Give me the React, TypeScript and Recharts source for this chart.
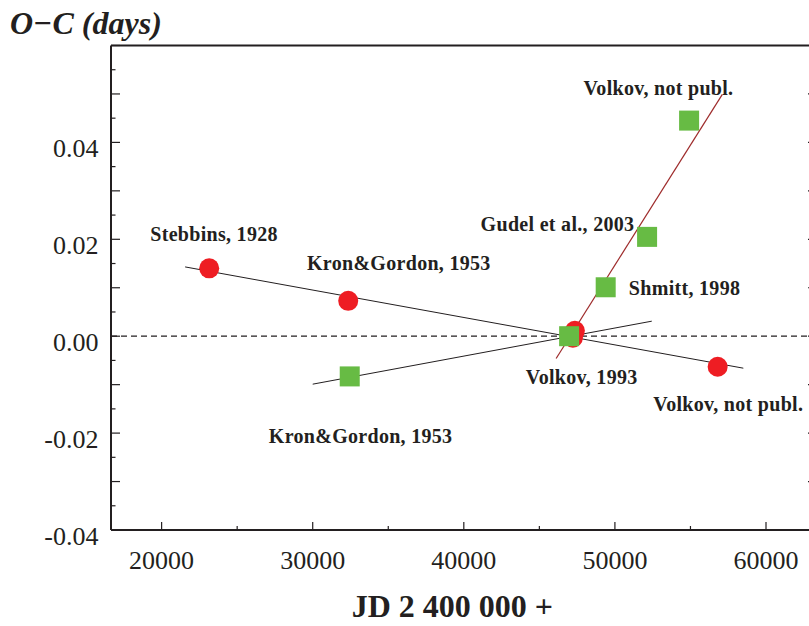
import { ScatterChart, Scatter, XAxis, YAxis, ReferenceLine } from "recharts"

const RED = "#ee1d23"
const GREEN = "#67bb44"
const FIT_RED = "#9e2b2b"
const INK = "#231f20"
const FONT = "'Liberation Serif', 'Times New Roman', serif"

const xDomain = [16650, 63375]
const yDomain = [-0.04, 0.06]
const xTicks = [20000, 25000, 30000, 35000, 40000, 45000, 50000, 55000, 60000]
const yTicks = [
  -0.04, -0.035, -0.03, -0.025, -0.02, -0.015, -0.01, -0.005, 0, 0.005, 0.01, 0.015, 0.02, 0.025, 0.03, 0.035,
  0.04, 0.045, 0.05, 0.055, 0.06,
]
const yLabelled = [-0.04, -0.02, 0, 0.02, 0.04]

// red circles
const primaryMinima = [
  { x: 23150, y: 0.014 },
  { x: 32350, y: 0.0073 },
  { x: 47350, y: 0.0011 },
  { x: 47220, y: -0.0003 },
  { x: 56800, y: -0.0063 },
]

// green squares
const secondaryMinima = [
  { x: 32450, y: -0.0083 },
  { x: 46970, y: 0.0 },
  { x: 49390, y: 0.0101 },
  { x: 52130, y: 0.0205 },
  { x: 54910, y: 0.0445 },
]

const fitPrimary = [
  { x: 21555, y: 0.0143 },
  { x: 58500, y: -0.0066 },
]
const fitSecondaryOld = [
  { x: 30000, y: -0.0099 },
  { x: 52440, y: 0.0031 },
]
const fitSecondaryNew = [
  { x: 46110, y: -0.0046 },
  { x: 57110, y: 0.0499 },
]

const annotations = [
  { x: 23470, y: 0.021, text: "Stebbins, 1928" },
  { x: 35700, y: 0.0152, text: "Kron&Gordon, 1953" },
  { x: 46200, y: 0.0231, text: "Gudel et al., 2003" },
  { x: 52880, y: 0.0513, text: "Volkov, not publ." },
  { x: 54610, y: 0.0099, text: "Shmitt, 1998" },
  { x: 47800, y: -0.0085, text: "Volkov, 1993" },
  { x: 57500, y: -0.0139, text: "Volkov, not publ." },
  { x: 33170, y: -0.0207, text: "Kron&Gordon, 1953" },
]

const isMultiple = (v: number, step: number) => Math.abs(Math.round(v / step) * step - v) < 1e-9

function BottomTick({ x, y, payload }: any) {
  const major = isMultiple(payload.value, 10000)
  return (
    <g>
      <line x1={x} x2={x} y1={y} y2={y - (major ? 8 : 4)} stroke={INK} strokeWidth={1.2} />
      {major && (
        <text x={x} y={y + 39} textAnchor="middle" fontFamily={FONT} fontSize={26} fill={INK}>
          {payload.value}
        </text>
      )}
    </g>
  )
}

function TopTick({ x, y, payload }: any) {
  const major = isMultiple(payload.value, 10000)
  return <line x1={x} x2={x} y1={y} y2={y + (major ? 8 : 4)} stroke={INK} strokeWidth={1.2} />
}

function LeftTick({ x, y, payload }: any) {
  const v = payload.value
  const len = isMultiple(v, 0.01) ? 9 : 4.5
  const labelled = yLabelled.some((t) => Math.abs(t - v) < 1e-9)
  return (
    <g>
      <line x1={x} x2={x + len} y1={y} y2={y} stroke={INK} strokeWidth={1.2} />
      {labelled && (
        <text x={x - 12.5} y={y + 14.5} textAnchor="end" fontFamily={FONT} fontSize={26} fill={INK}>
          {v.toFixed(2)}
        </text>
      )}
    </g>
  )
}

function RightTick({ x, y, payload }: any) {
  const len = isMultiple(payload.value, 0.01) ? 9 : 4.5
  return <line x1={x} x2={x - len} y1={y} y2={y} stroke={INK} strokeWidth={1.2} />
}

const Circle = (p: any) => <circle cx={p.cx} cy={p.cy} r={10} fill={RED} />
const Square = (p: any) => <rect x={p.cx - 10} y={p.cy - 10} width={20} height={20} fill={GREEN} />
const Note = (p: any) => (
  <text
    x={p.cx}
    y={p.cy + 7}
    textAnchor="middle"
    fontFamily={FONT}
    fontWeight="bold"
    fontSize={20}
    letterSpacing={0.3}
    fill={INK}
  >
    {p.payload.text}
  </text>
)

export default function App() {
  // fixed frame so the plot can run past the right edge without scrollbars, like the cropped original
  return (
    <div style={{ position: "fixed", left: 0, top: 0, width: 809, height: 626, overflow: "hidden", background: "#fff" }}>
      <div style={{ position: "absolute", left: 8, top: 8 }}>
        <ScatterChart width={820} height={618} margin={{ top: 36.5, right: 10, bottom: 0, left: 0 }}>
          <XAxis
            dataKey="x"
            type="number"
            domain={xDomain}
            ticks={xTicks}
            interval={0}
            height={96}
            tickSize={0}
            tickMargin={0}
            tickLine={false}
            tick={<BottomTick />}
            axisLine={{ stroke: INK, strokeWidth: 2 }}
            allowDataOverflow
          />
          <XAxis
            xAxisId="top"
            orientation="top"
            type="number"
            domain={xDomain}
            ticks={xTicks}
            interval={0}
            height={1}
            tickSize={0}
            tickMargin={0}
            tickLine={false}
            tick={<TopTick />}
            axisLine={{ stroke: INK, strokeWidth: 2 }}
            allowDataOverflow
          />
          <YAxis
            dataKey="y"
            type="number"
            domain={yDomain}
            ticks={yTicks}
            interval={0}
            width={103}
            tickSize={0}
            tickMargin={0}
            tickLine={false}
            tick={<LeftTick />}
            axisLine={{ stroke: INK, strokeWidth: 2 }}
            allowDataOverflow
          />
          <YAxis
            yAxisId="right"
            orientation="right"
            type="number"
            domain={yDomain}
            ticks={yTicks}
            interval={0}
            width={1}
            tickSize={0}
            tickMargin={0}
            tickLine={false}
            tick={<RightTick />}
            axisLine={{ stroke: INK, strokeWidth: 2 }}
            allowDataOverflow
          />
          <ReferenceLine y={0} stroke={INK} strokeWidth={1.2} strokeDasharray="6 4" />
          <Scatter data={annotations} shape={<Note />} isAnimationActive={false} />
          <Scatter data={primaryMinima} shape={<Circle />} isAnimationActive={false} />
          <Scatter data={secondaryMinima} shape={<Square />} isAnimationActive={false} />
          <ReferenceLine segment={fitPrimary} stroke={INK} strokeWidth={1} />
          <ReferenceLine segment={fitSecondaryOld} stroke={INK} strokeWidth={1} />
          <ReferenceLine segment={fitSecondaryNew} stroke={FIT_RED} strokeWidth={1.2} />
        </ScatterChart>
      </div>
      <svg width={809} height={626} style={{ position: "absolute", left: 0, top: 0, pointerEvents: "none" }}>
        <text x={10} y={34} fontFamily={FONT} fontWeight="bold" fontStyle="italic" fontSize={32} fill={INK}>
          O−C (days)
        </text>
        <text x={351.7} y={616.5} fontFamily={FONT} fontWeight="bold" fontSize={32} fill={INK}>
          JD 2 400 000 +
        </text>
      </svg>
    </div>
  )
}
